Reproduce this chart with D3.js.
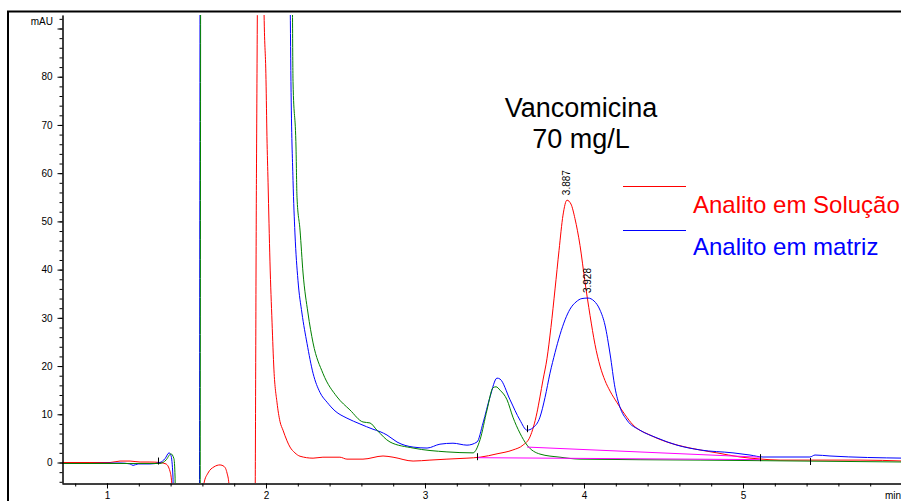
<!DOCTYPE html>
<html>
<head>
<meta charset="utf-8">
<script src="https://cdn.jsdelivr.net/npm/d3@7"></script>
<style>
  body { margin: 0; background: #fff; }
  svg { display: block; font-family: Arial, "Liberation Sans", sans-serif; }
</style>
</head>
<body>
<div id="chart"></div>
<script>
// Chromatogram overlay - Vancomicina 70 mg/L

// time (min), signal (mAU)
const solucao = [[0.717,0],[0.893,0],[1.019,0],[1.082,0.3],[1.145,0.3],[1.208,0.1],[1.270,0.1],[1.333,0],[1.371,-0.3],[1.396,-1.8],[1.409,-5],[1.421,-25],[1.604,-25],[1.610,-4.3],[1.635,-2.2],[1.673,-0.9],[1.711,-0.5],[1.736,-0.8],[1.755,-2.2],[1.767,-4.5],[1.780,-25],[1.928,-25],[1.940,60],[1.962,150],[1.975,150],[1.987,95],[2.000,79.4],[2.006,67.6],[2.013,58],[2.019,49.5],[2.025,41.6],[2.038,29.1],[2.050,19.2],[2.069,12.5],[2.088,8.5],[2.107,6.7],[2.132,4.5],[2.151,3.2],[2.182,2.0],[2.214,1.3],[2.296,0.9],[2.358,1.1],[2.465,1.1],[2.509,0.7],[2.610,0.7],[2.736,1.35],[2.799,1.1],[2.925,0.3],[3.031,0.5],[3.138,0.7],[3.264,0.9],[3.346,1.1],[3.453,1.8],[3.553,2.6],[3.616,3.6],[3.660,5.3],[3.704,10.3],[3.723,13.6],[3.742,17.1],[3.767,21.5],[3.792,28],[3.818,36],[3.843,44],[3.868,51.3],[3.893,54.4],[3.918,53.6],[3.943,50.6],[3.975,45],[4.006,37.5],[4.038,30.5],[4.069,24.5],[4.101,20],[4.132,17],[4.164,14.8],[4.208,12.4],[4.258,9.9],[4.308,7.8],[4.415,5.7],[4.522,4.25],[4.667,3.0],[4.836,2.0],[4.981,1.15],[5.107,0.73],[5.233,0.5],[5.736,0.5],[6.019,0.3]];

const matriz = [[0.717,-0.2],[0.893,-0.2],[1.082,-0.1],[1.145,-0.3],[1.164,-0.6],[1.195,-0.3],[1.270,-0.3],[1.333,0],[1.365,0.8],[1.390,2.0],[1.402,1.5],[1.415,-3],[1.421,-25],[1.580,-25],[1.588,150],[2.138,150],[2.151,100],[2.157,79],[2.170,58.5],[2.182,47.6],[2.201,37.8],[2.226,31],[2.258,24.7],[2.296,18.5],[2.340,14.5],[2.384,12.5],[2.434,10.7],[2.509,9.2],[2.591,8.0],[2.673,6.9],[2.717,6.4],[2.761,5.7],[2.824,4.25],[2.925,3.2],[3.013,3.0],[3.094,3.8],[3.176,4.0],[3.264,3.6],[3.327,4.25],[3.365,8.2],[3.409,13.6],[3.453,17.5],[3.472,17.3],[3.535,13],[3.597,8.8],[3.642,6.7],[3.679,7.2],[3.723,9.4],[3.755,13.5],[3.786,18.5],[3.818,22.8],[3.849,26.5],[3.881,29.6],[3.912,31.8],[3.950,33.3],[3.987,34],[4.025,34.1],[4.063,33.5],[4.101,31.6],[4.132,28.5],[4.164,22.5],[4.195,15.5],[4.226,11.5],[4.270,8.8],[4.352,6.7],[4.459,5.1],[4.585,3.6],[4.730,2.6],[4.937,2.0],[5.044,1.55],[5.126,1.14],[5.421,1.14],[5.453,1.55],[5.547,1.35],[6.019,0.9]];

const branco = [[0.717,-0.2],[1.333,-0.2],[1.371,0.5],[1.402,1.8],[1.421,0.8],[1.428,-3],[1.434,-25],[1.585,-25],[1.591,150],[2.158,150],[2.164,110],[2.170,79],[2.189,65],[2.195,55],[2.214,48.2],[2.233,39.3],[2.264,31],[2.296,24.8],[2.358,18.5],[2.447,13.6],[2.528,10.9],[2.610,8.4],[2.654,8.2],[2.698,6.7],[2.780,4.25],[2.925,3.0],[3.138,2.2],[3.302,2.0],[3.346,4.7],[3.390,10.9],[3.428,15.5],[3.447,15.7],[3.472,15.0],[3.516,13],[3.553,9.4],[3.597,6.1],[3.642,3.6],[3.723,1.75],[3.849,1.1],[3.975,0.7],[4.730,0.5],[6.019,0.1]];

// integration baselines
const baseSolucao = [[3.327,1.0],[5.107,0.6]];
const baseMatriz = [[3.642,3.2],[5.107,1.1]];

// integration event marks (time, signal)
const eventos = [[1.320,0.2],[3.327,1.1],[3.642,6.9],[5.107,0.9],[5.421,0.1]];

// peak labels
const picoTempo = [3.893, 4.025];
const picoAltura = [54.4, 34.1];
const picoRotulo = ['3.887', '3.928'];

// axis ticks
const yMajor = [0, 10, 20, 30, 40, 50, 60, 70, 80, 90];
const yMinor = d3.range(-4, 93, 2);
const xMajor = [1, 2, 3, 4, 5];
const xMinor = d3.range(0.8, 6.0, 0.2).map(d => +d.toFixed(1));

const legendNames = ['Analito em Solução', 'Analito em matriz'];
const legendColors = ['#ff0000', '#0000ff'];
const titleLines = ['Vancomicina', '70 mg/L'];

const width = 901, height = 501;
const plot = { left: 62, right: 902, top: 15, bottom: 483 };

const svg = d3.select('#chart').append('svg')
  .attr('width', width)
  .attr('height', height);

// outer frame
svg.append('path')
  .attr('d', `M8,${height} V11.5 H${width}`)
  .attr('fill', 'none')
  .attr('stroke', '#000')
  .attr('stroke-width', 2);

const x = d3.scaleLinear().domain([0.717, 6.0]).range([plot.left, plot.right]);
const y = d3.scaleLinear().domain([-4.25, 92.8]).range([plot.bottom, plot.top]);

svg.append('clipPath').attr('id', 'clip')
  .append('rect')
  .attr('x', plot.left).attr('y', plot.top)
  .attr('width', plot.right - plot.left).attr('height', plot.bottom - plot.top);

const line = d3.line().curve(d3.curveMonotoneX).x(d => x(d[0])).y(d => y(d[1]));

const traces = svg.append('g').attr('clip-path', 'url(#clip)');

[[solucao, '#ff0000'], [matriz, '#0000ff'], [branco, '#008000']].forEach(([data, color]) => {
  traces.append('path')
    .datum(data)
    .attr('fill', 'none')
    .attr('stroke', color)
    .attr('stroke-width', 1)
    .attr('d', line);
});

[baseSolucao, baseMatriz].forEach(data => {
  traces.append('path')
    .datum(data)
    .attr('fill', 'none')
    .attr('stroke', '#ff00ff')
    .attr('stroke-width', 1)
    .attr('d', line);
});

traces.selectAll('line.evt')
  .data(eventos)
  .join('line')
  .attr('class', 'evt')
  .attr('x1', d => Math.round(x(d[0])) + 0.5)
  .attr('x2', d => Math.round(x(d[0])) + 0.5)
  .attr('y1', d => y(d[1]) - 4)
  .attr('y2', d => y(d[1]) + 3)
  .attr('stroke', '#000')
  .attr('stroke-width', 1);

// axes
const yAxisMinor = d3.axisLeft(y).tickValues(yMinor).tickSize(3).tickSizeOuter(0).tickFormat('');
const yAxisMajor = d3.axisLeft(y).tickValues(yMajor).tickSize(5).tickSizeOuter(0)
  .tickPadding(5).tickFormat(d => d === 90 ? '' : d);

const gy = svg.append('g').attr('transform', `translate(${plot.left + 0.5},0)`);
gy.call(yAxisMinor);
gy.append('g').call(yAxisMajor);

const xAxisMinor = d3.axisBottom(x).tickValues(xMinor).tickSize(3).tickSizeOuter(0).tickFormat('');
const xAxisMajor = d3.axisBottom(x).tickValues(xMajor).tickSize(5).tickSizeOuter(0)
  .tickPadding(3).tickFormat(d3.format('d'));

const gx = svg.append('g').attr('transform', `translate(0,${plot.bottom + 0.5})`);
gx.call(xAxisMinor);
gx.append('g').call(xAxisMajor);

svg.selectAll('.domain').attr('stroke', '#000');
svg.selectAll('.tick line').attr('stroke', '#000');
svg.selectAll('.tick text')
  .attr('font-family', 'Arial, "Liberation Sans", sans-serif')
  .attr('font-size', 10)
  .attr('fill', '#000');

svg.append('text')
  .attr('x', 53).attr('y', 25)
  .attr('text-anchor', 'end')
  .attr('font-size', 10)
  .text('mAU');

// unit label, cut by the right edge as in the original
svg.append('text')
  .attr('x', 885).attr('y', 499)
  .attr('font-size', 10)
  .text('min');

// peak retention time labels
svg.selectAll('text.pico')
  .data(picoTempo)
  .join('text')
  .attr('class', 'pico')
  .attr('transform', (d, i) => `translate(${x(d) + 3.5},${y(picoAltura[i]) - 5}) rotate(-90)`)
  .attr('font-size', 10)
  .text((d, i) => picoRotulo[i]);

// title
svg.selectAll('text.titulo')
  .data(titleLines)
  .join('text')
  .attr('class', 'titulo')
  .attr('x', 581)
  .attr('y', (d, i) => 117 + i * 31)
  .attr('text-anchor', 'middle')
  .attr('font-size', 27)
  .attr('fill', '#000')
  .text(d => d);

// legend
const legend = svg.append('g');
legend.selectAll('line')
  .data(legendNames)
  .join('line')
  .attr('x1', 623).attr('x2', 686)
  .attr('y1', (d, i) => 186.5 + i * 44)
  .attr('y2', (d, i) => 186.5 + i * 44)
  .style('stroke', (d, i) => legendColors[i])
  .style('stroke-width', '1px');

legend.selectAll('text')
  .data(legendNames)
  .join('text')
  .attr('x', 693)
  .attr('y', (d, i) => 213 + i * 42)
  .attr('font-size', 24)
  .attr('fill', (d, i) => legendColors[i])
  .text(d => d);
</script>
</body>
</html>
